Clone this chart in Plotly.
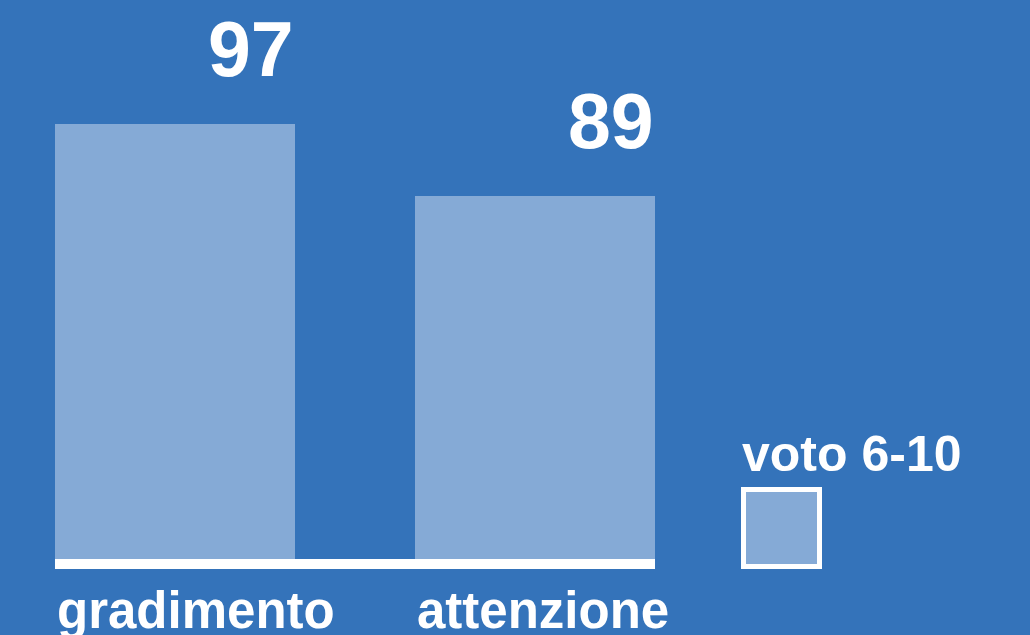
import plotly.graph_objects as go

categories = ["gradimento", "attenzione"]
values = [97, 89]
series_name = "voto 6-10"

BG = "#3473BA"
BAR = "#85AAD6"
FONT = "Liberation Sans, Arial, Helvetica, sans-serif"

W, H = 1030, 635
bar_width = 0.6667

fig = go.Figure()
fig.add_trace(go.Bar(
    x=list(range(len(categories))), y=values, width=bar_width,
    marker=dict(color=BAR, line=dict(width=0)),
    name=series_name, showlegend=False, hoverinfo="skip",
))

# value labels, right-aligned to the bar's right edge
for i, v in enumerate(values):
    fig.add_annotation(
        x=i + bar_width / 2, y=v, xref="x", yref="y",
        text=f"<b>{v}</b>", showarrow=False,
        xanchor="right", yanchor="bottom", yshift=30, xshift=1,
        font=dict(family=FONT, size=77, color="white"),
    )
    # category labels, left-aligned to bar's left edge
    fig.add_annotation(
        x=i - bar_width / 2, y=0, xref="x", yref="paper",
        text=f"<b>{categories[i]}</b>", showarrow=False,
        xanchor="left", yanchor="top", yshift=-21,
        font=dict(family=FONT, size=51, color="white"),
    )

# white baseline
fig.add_shape(type="rect", xref="x", yref="paper",
              x0=-bar_width / 2, x1=len(categories) - 1 + bar_width / 2,
              y0=-10 / 559, y1=0, fillcolor="white", line=dict(width=0))

# legend (text above swatch)
plot_h = 559
def py(p):
    return (plot_h - p) / plot_h

fig.add_shape(type="rect", xref="paper", yref="paper",
              x0=743.5 / W, x1=819.5 / W, y0=py(566.5), y1=py(489.5),
              fillcolor=BAR, line=dict(color="white", width=5))
fig.add_annotation(
    x=740 / W, y=py(484), xref="paper", yref="paper",
    text=f"<b>{series_name}</b>", showarrow=False,
    xanchor="left", yanchor="bottom",
    font=dict(family=FONT, size=50, color="white"),
)

fig.update_layout(
    width=W, height=H,
    margin=dict(l=0, r=0, t=0, b=H - plot_h, pad=0),
    paper_bgcolor=BG, plot_bgcolor=BG,
    xaxis=dict(range=[-175 / 360, (W - 175) / 360], visible=False, fixedrange=True),
    yaxis=dict(range=[48.67, 48.67 + plot_h / 9], visible=False, fixedrange=True),
    showlegend=False,
    bargap=0,
)

fig.write_html("out.html", config={"displayModeBar": False},
               post_script="document.body.style.margin='0';document.body.style.overflow='hidden';")
